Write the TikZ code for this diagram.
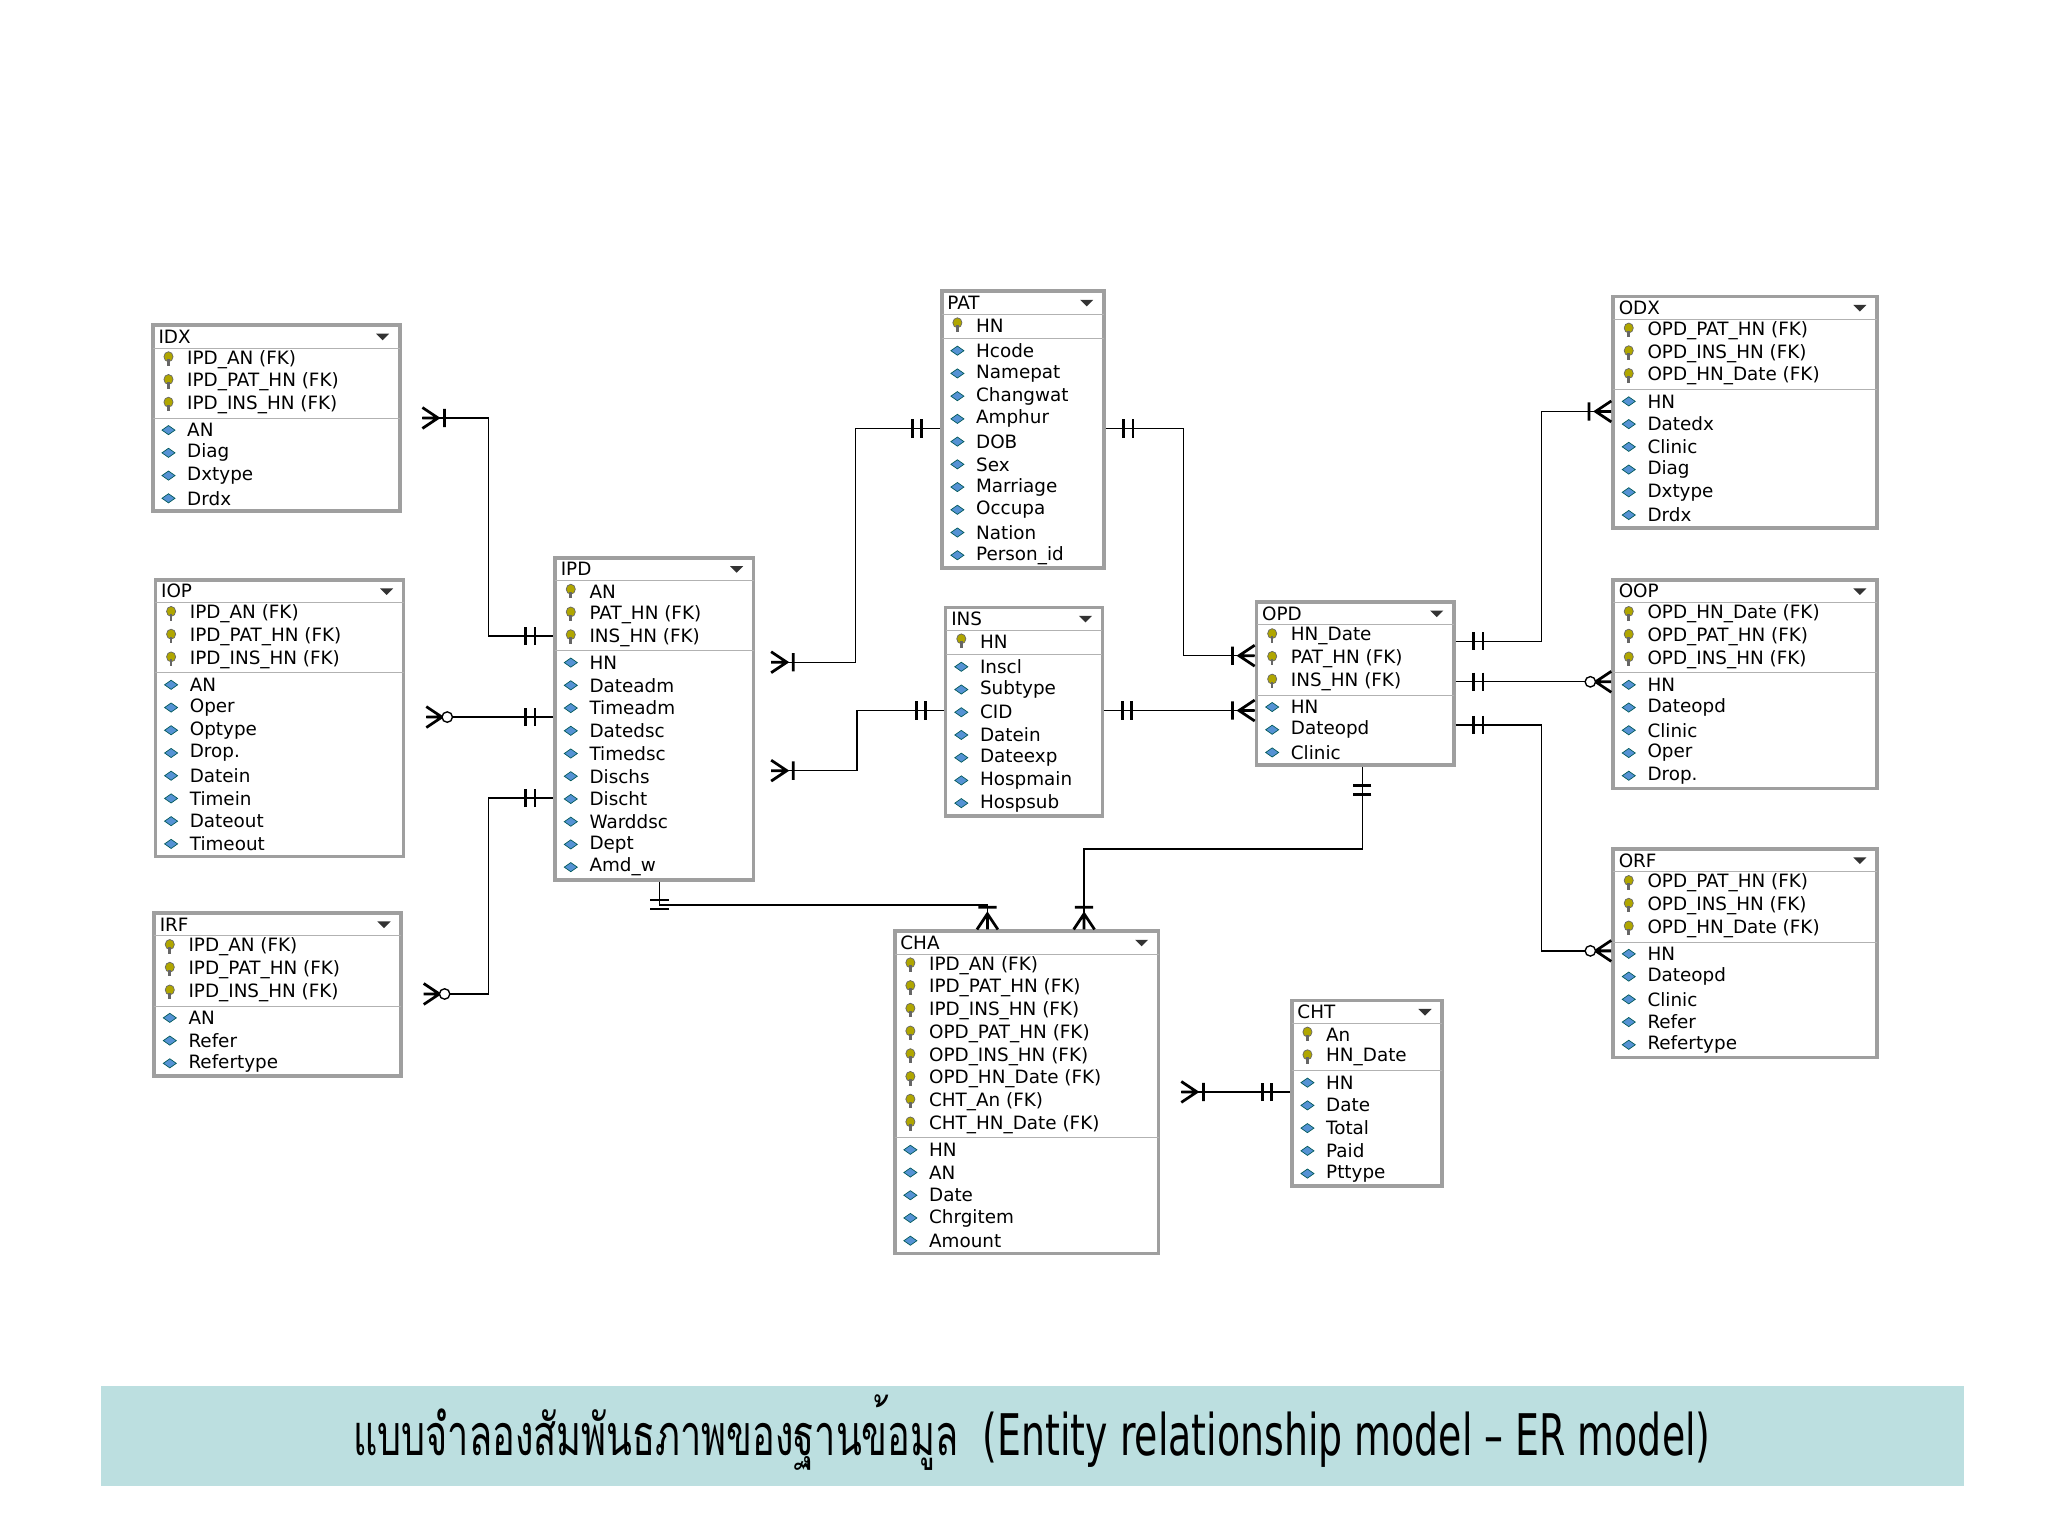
\documentclass[tikz,border=0pt]{standalone}
\usepackage{fontspec}
\setmainfont{DejaVu Sans}
\newfontfamily\thaifont{Loma}
\usetikzlibrary{fit}
\definecolor{bannerteal}{RGB}{188,223,224}

\tikzset{
  rel/.style={line width=.6pt},
  cardmark/.style={line width=1.2pt},
  dbar/.pic={\draw[cardmark] (14,-7) -- (14,7) (21,-7) -- (21,7);},
  crowbar/.pic={\draw[cardmark] (0,-8) -- (12,0) -- (0,8) (0,0) -- (12,0) (17,-7) -- (17,7);},
  crowring/.pic={\draw[cardmark] (0,-8) -- (12,0) -- (0,8) (0,0) -- (12,0);
                 \draw[line width=.6pt, fill=white] (16,0) circle [radius=4];},
  tbl/.style={draw=gray!75, line width=1.6pt, inner sep=0pt},
  row/.style={anchor=west, font=\fontsize{8}{9}\selectfont, inner sep=0pt},
}

% #1 name, #2 x, #3 y, #4 width, #5 title, #6 key rows, #7 rows, #8 list
\newcommand\ertable[8]{%
  \pgfmathsetmacro\tblh{17.4*(#7+1)+3}
  \coordinate (#1-nw) at (#2,#3);
  \coordinate (#1-se) at (#2+#4,#3+\tblh);
  \fill[white] (#1-nw) rectangle (#1-se);
  \node[tbl, fit=(#1-nw)(#1-se)] (#1) {};
  \draw[gray!60] (#2,#3+17.4) -- ++(#4,0);
  \draw[gray!60] (#2,#3+17.4*#6+19) -- ++(#4,0);
  \node[row] (#1-title) at (#2+4,#3+8.7) {#5};
  \fill[black!80] (#2+#4-18,#3+6.5) -- ++(10,0) -- ++(-5,5) -- cycle;
  \foreach \txt [count=\i] in {#8} {
    \pgfmathsetmacro\ry{#3+17.4*\i+8.7+(\i>#6?2:0)}
    \ifnum\i>#6
      \fill[cyan!55!blue!70, draw=teal!70!black, line width=.3pt]
        (#2+7,\ry) -- ++(5,-3.5) -- ++(5,3.5) -- ++(-5,3.5) -- cycle;
    \else
      \fill[olive!70!yellow, draw=black!60, line width=.3pt]
        (#2+12,\ry-2) ellipse [x radius=3.5, y radius=3.8];
      \fill[black!60] (#2+11,\ry) rectangle (#2+13,\ry+5);
    \fi
    \node[row] at (#2+26,\ry) {\txt};
  }
}

\begin{document}
\begin{tikzpicture}[x=0.02cm, y=-0.02cm]
  \useasboundingbox (0,0) rectangle (1568,1177);

  % tables
  \ertable{idx}{117}{249}{189}{IDX}{3}{7}{IPD\_AN (FK),IPD\_PAT\_HN (FK),IPD\_INS\_HN (FK),AN,Diag,Dxtype,Drdx}
  \ertable{iop}{119}{444}{190}{IOP}{3}{11}{IPD\_AN (FK),IPD\_PAT\_HN (FK),IPD\_INS\_HN (FK),AN,Oper,Optype,Drop.,Datein,Timein,Dateout,Timeout}
  \ertable{irf}{118}{699}{189}{IRF}{3}{6}{IPD\_AN (FK),IPD\_PAT\_HN (FK),IPD\_INS\_HN (FK),AN,Refer,Refertype}
  \ertable{ipd}{425}{427}{152}{IPD}{3}{13}{AN,PAT\_HN (FK),INS\_HN (FK),HN,Dateadm,Timeadm,Datedsc,Timedsc,Dischs,Discht,Warddsc,Dept,Amd\_w}
  \ertable{pat}{721}{223}{124}{PAT}{1}{11}{HN,Hcode,Namepat,Changwat,Amphur,DOB,Sex,Marriage,Occupa,Nation,Person\_id}
  \ertable{ins}{724}{465}{120}{INS}{1}{8}{HN,Inscl,Subtype,CID,Datein,Dateexp,Hospmain,Hospsub}
  \ertable{opd}{962}{461}{151}{OPD}{3}{6}{HN\_Date,PAT\_HN (FK),INS\_HN (FK),HN,Dateopd,Clinic}
  \ertable{cha}{685}{713}{202}{CHA}{8}{13}{IPD\_AN (FK),IPD\_PAT\_HN (FK),IPD\_INS\_HN (FK),OPD\_PAT\_HN (FK),OPD\_INS\_HN (FK),OPD\_HN\_Date (FK),CHT\_An (FK),CHT\_HN\_Date (FK),HN,AN,Date,Chrgitem,Amount}
  \ertable{cht}{989}{766}{115}{CHT}{2}{7}{An,HN\_Date,HN,Date,Total,Paid,Pttype}
  \ertable{odx}{1235}{227}{202}{ODX}{3}{9}{OPD\_PAT\_HN (FK),OPD\_INS\_HN (FK),OPD\_HN\_Date (FK),HN,Datedx,Clinic,Diag,Dxtype,Drdx}
  \ertable{oop}{1235}{444}{202}{OOP}{3}{8}{OPD\_HN\_Date (FK),OPD\_PAT\_HN (FK),OPD\_INS\_HN (FK),HN,Dateopd,Clinic,Oper,Drop.}
  \ertable{orf}{1235}{650}{202}{ORF}{3}{8}{OPD\_PAT\_HN (FK),OPD\_INS\_HN (FK),OPD\_HN\_Date (FK),HN,Dateopd,Clinic,Refer,Refertype}

  % relationships, left side
  \draw[rel] (idx.east |- 0,320) ++(16,0) coordinate (idx-r) -| (374,400) |- (ipd.west |- 0,487) coordinate (ipd-l1);
  \draw[rel] (iop.east |- 0,549) ++(16,0) coordinate (iop-r) -- (ipd.west |- 0,549) coordinate (ipd-l2);
  \draw[rel] (irf.east |- 0,761) ++(16,0) coordinate (irf-r) -| (374,700) |- (ipd.west |- 0,611) coordinate (ipd-l3);
  \pic at (idx-r) {crowbar};
  \pic at (iop-r) {crowring};
  \pic at (irf-r) {crowring};
  \foreach \c in {ipd-l1,ipd-l2,ipd-l3} \pic[rotate=180] at (\c) {dbar};

  % IPD to PAT / INS
  \draw[rel] (ipd.east |- 0,507) ++(12,0) coordinate (ipd-r1) -| (655,400) |- (pat.west |- 0,328) coordinate (pat-l);
  \draw[rel] (ipd.east |- 0,590) ++(12,0) coordinate (ipd-r2) -| (656,560) |- (ins.west |- 0,544) coordinate (ins-l);
  \pic at (ipd-r1) {crowbar};
  \pic at (ipd-r2) {crowbar};
  \pic[rotate=180] at (pat-l) {dbar};
  \pic[rotate=180] at (ins-l) {dbar};

  % PAT / INS to OPD
  \draw[rel] (pat.east |- 0,328) coordinate (pat-r) -| (906,420) |- (opd.west |- 0,502) coordinate (opd-l1);
  \draw[rel] (ins.east |- 0,544) coordinate (ins-r) -- (opd.west |- 0,544) coordinate (opd-l2);
  \pic at (pat-r) {dbar};
  \pic at (ins-r) {dbar};
  \pic[rotate=180] at (opd-l1) {crowbar};
  \pic[rotate=180] at (opd-l2) {crowbar};

  % OPD to ODX / OOP / ORF
  \draw[rel] (opd.east |- 0,491) coordinate (opd-r1) -| (1180,400) |- (odx.west |- 0,315) coordinate (odx-l);
  \draw[rel] (opd.east |- 0,522) coordinate (opd-r2) -- (oop.west |- 0,522) coordinate (oop-l);
  \draw[rel] (opd.east |- 0,555) coordinate (opd-r3) -| (1180,640) |- (orf.west |- 0,728) coordinate (orf-l);
  \foreach \c in {opd-r1,opd-r2,opd-r3} \pic at (\c) {dbar};
  \pic[rotate=180] at (odx-l) {crowbar};
  \pic[rotate=180] at (oop-l) {crowring};
  \pic[rotate=180] at (orf-l) {crowring};

  % CHA links
  \draw[rel] (ipd.south -| 505,0) coordinate (ipd-b) |- (756,693) -- (cha.north -| 756,0) coordinate (cha-t1);
  \draw[rel] (opd.south -| 1043,0) coordinate (opd-b) |- (830,650) -- (cha.north -| 830,0) coordinate (cha-t2);
  \draw[rel] (cha.east |- 0,836) ++(16,0) coordinate (cha-r) -- (cht.west |- 0,836) coordinate (cht-l);
  \pic[rotate=-90] at (ipd-b) {dbar};
  \pic[rotate=-90] at (opd-b) {dbar};
  \pic[rotate=90] at (cha-t1) {crowbar};
  \pic[rotate=90] at (cha-t2) {crowbar};
  \pic at (cha-r) {crowbar};
  \pic[rotate=180] at (cht-l) {dbar};

  % caption banner
  \fill[bannerteal] (77,1061) rectangle (1504,1138);
  \node[inner sep=0pt, font=\fontsize{25}{30}\selectfont, xscale=.66] (caption) at (790,1097)
    {{\thaifont แบบจำลองสัมพันธภาพของฐานข้อมูล}\ \ (Entity relationship model -- ER model)};
\end{tikzpicture}
\end{document}
